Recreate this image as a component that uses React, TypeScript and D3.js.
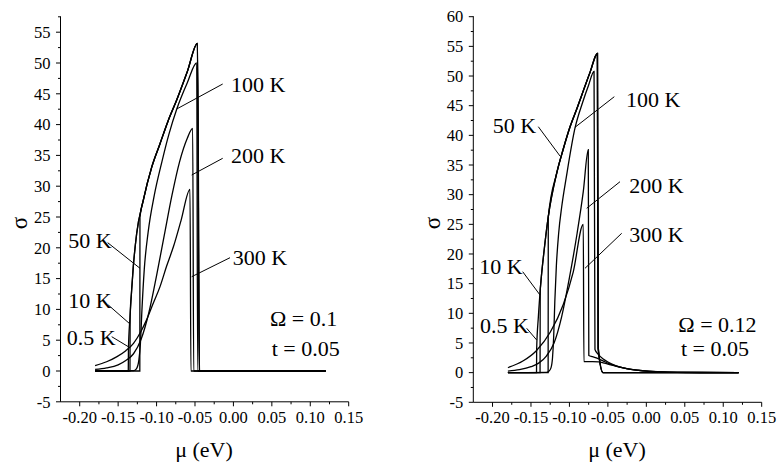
import React from "react";
import * as d3 from "d3";

type Pt = [number, number];

// ---------- DATA ----------
const X_TICKS = [-0.2, -0.15, -0.1, -0.05, 0.0, 0.05, 0.1, 0.15];
const Y_TICKS_LEFT = [-5, 0, 5, 10, 15, 20, 25, 30, 35, 40, 45, 50, 55];
const Y_TICKS_RIGHT = [-5, 0, 5, 10, 15, 20, 25, 30, 35, 40, 45, 50, 55, 60];

// Left panel (Omega = 0.1)
const L_05K: Pt[] = [
  [-0.18, 0], [-0.1368, 0], [-0.1366, 3.5], [-0.1346, 8.7], [-0.1325, 13], [-0.1303, 16.9],
  [-0.1259, 22.3], [-0.1173, 27.7], [-0.1063, 33.1], [-0.0955, 36.9], [-0.085, 40.6],
  [-0.0738, 44], [-0.06, 48.6], [-0.047, 53.2], [-0.0445, 0], [0.12, 0],
];
const L_10K: Pt[] = [
  [-0.18, 0], [-0.1346, 0], [-0.1344, 8.9], [-0.1325, 13], [-0.1303, 16.9],
  [-0.1259, 22.3], [-0.1173, 27.7], [-0.1063, 33.1], [-0.0955, 36.9], [-0.085, 40.6],
  [-0.0738, 44], [-0.06, 48.6], [-0.0468, 53.2], [-0.0443, 0], [0.12, 0],
];
const L_50K: Pt[] = [
  [-0.18, 0], [-0.1218, 0], [-0.1216, 25], [-0.1173, 27.7], [-0.1063, 33.1], [-0.0955, 36.9],
  [-0.085, 40.6], [-0.0738, 44], [-0.06, 48.6], [-0.0466, 53.2], [-0.0441, 0], [0.12, 0],
];
const L_100K: Pt[] = [
  [-0.18, 0], [-0.13, 0.05], [-0.126, 0.4], [-0.123, 1.8], [-0.121, 4.5], [-0.119, 10],
  [-0.116, 16.5], [-0.111, 22.5], [-0.103, 28.5], [-0.093, 34], [-0.0838, 38.5],
  [-0.0738, 42.5], [-0.06, 46.8], [-0.0478, 50], [-0.0465, 0], [0.12, 0],
];
const L_200K: Pt[] = [
  [-0.18, 0.25], [-0.165, 0.5], [-0.15, 1.0], [-0.14, 1.7], [-0.13, 2.8], [-0.12, 5.2],
  [-0.11, 9.5], [-0.1, 15.5], [-0.09, 22], [-0.08, 28.5], [-0.07, 34], [-0.06, 37.8],
  [-0.053, 39.4], [-0.0517, 0], [0.12, 0],
];
const L_300K: Pt[] = [
  [-0.18, 0.86], [-0.165, 1.5], [-0.152, 2.3], [-0.14, 3.3], [-0.13, 4.5], [-0.12, 6.5],
  [-0.113, 8.3], [-0.105, 10.8], [-0.0955, 13.7], [-0.087, 17], [-0.078, 20.2],
  [-0.068, 24.5], [-0.0565, 29.5], [-0.0553, 0], [0.12, 0],
];

// Right panel (Omega = 0.12)
const R_05K: Pt[] = [
  [-0.18, 0], [-0.1428, 0], [-0.1426, 4], [-0.1404, 9.4], [-0.1373, 15], [-0.133, 20.5],
  [-0.1275, 26.3], [-0.1166, 33.6], [-0.108, 37.7], [-0.0993, 41.4], [-0.09, 44.6],
  [-0.082, 47.5], [-0.073, 50.7], [-0.0638, 53.8], [-0.0628, 4.1], [-0.0565, 0], [0.12, 0],
];
const R_10K: Pt[] = [
  [-0.18, 0], [-0.1382, 0], [-0.138, 13.8], [-0.1373, 15], [-0.133, 20.5],
  [-0.1275, 26.3], [-0.1166, 33.6], [-0.108, 37.7], [-0.0993, 41.4], [-0.09, 44.6],
  [-0.082, 47.5], [-0.073, 50.7], [-0.0636, 53.8], [-0.0626, 4.1], [-0.0563, 0], [0.12, 0],
];
const R_50K: Pt[] = [
  [-0.18, 0], [-0.1277, 0], [-0.1275, 26.2], [-0.1166, 33.6], [-0.108, 37.7],
  [-0.0993, 41.4], [-0.09, 44.6], [-0.082, 47.5], [-0.073, 50.7], [-0.0634, 53.8],
  [-0.0624, 4.1], [-0.0561, 0], [0.12, 0],
];
const R_100K: Pt[] = [
  [-0.18, 0], [-0.13, 0.05], [-0.127, 0.2], [-0.124, 0.8], [-0.122, 2.5], [-0.1205, 6],
  [-0.119, 12], [-0.117, 18], [-0.114, 23.5], [-0.11, 28], [-0.104, 33], [-0.0928, 41.2],
  [-0.083, 45.5], [-0.075, 48.5], [-0.068, 50.8], [-0.0668, 3.9], [-0.062, 3.0],
  [-0.056, 2.3], [-0.05, 1.8], [-0.04, 1.2], [-0.03, 0.8], [-0.02, 0.55], [-0.01, 0.38],
  [0.0, 0.25], [0.02, 0.12], [0.04, 0.05], [0.07, 0.02], [0.12, 0],
];
const R_200K: Pt[] = [
  [-0.18, 0.25], [-0.165, 0.5], [-0.15, 1.0], [-0.14, 1.6], [-0.13, 2.8], [-0.12, 5.0],
  [-0.11, 9.5], [-0.1, 16], [-0.09, 23.5], [-0.082, 30.5], [-0.0755, 37.6], [-0.0748, 2.9],
  [-0.07, 2.7], [-0.065, 2.5], [-0.06, 2.2], [-0.055, 1.9], [-0.05, 1.6], [-0.04, 1.15],
  [-0.03, 0.8], [-0.02, 0.55], [-0.01, 0.38], [0.0, 0.26], [0.02, 0.13], [0.04, 0.06],
  [0.07, 0.02], [0.12, 0],
];
const R_300K: Pt[] = [
  [-0.18, 0.85], [-0.16, 2.0], [-0.143, 3.7], [-0.125, 6.8], [-0.108, 11.5], [-0.095, 17],
  [-0.082, 25], [-0.0812, 1.85], [-0.07, 1.85], [-0.062, 1.8], [-0.055, 1.6], [-0.05, 1.45],
  [-0.04, 1.1], [-0.03, 0.8], [-0.02, 0.55], [-0.01, 0.4], [0.0, 0.28], [0.02, 0.14],
  [0.04, 0.07], [0.07, 0.02], [0.12, 0],
];

// ---------- LAYOUT ----------
const FONT = '"Liberation Serif"';

type Ann = { text: string; x: number; y: number; line?: [number, number, number, number] };

interface PanelSpec {
  xRange: [number, number];
  yDomain: [number, number];
  yRange: [number, number];
  yTicks: number[];
  series: Pt[][];
  anns: Ann[];
  sigmaX: number;
  muX: number;
}

const panels: PanelSpec[] = [
  {
    xRange: [60.5, 348.7],
    yDomain: [-5, 57.5],
    yRange: [401.8, 16.8],
    yTicks: Y_TICKS_LEFT,
    series: [L_05K, L_10K, L_50K, L_100K, L_200K, L_300K],
    anns: [
      { text: "100 K", x: 231, y: 92, line: [222.7, 84, 176.7, 109] },
      { text: "200 K", x: 231, y: 163, line: [222.7, 158.3, 191.7, 175] },
      { text: "300 K", x: 232.7, y: 265, line: [230, 257.7, 191.7, 276.7] },
      { text: "50 K", x: 68.3, y: 248, line: [107.7, 242.7, 140, 268.3] },
      { text: "10 K", x: 68.3, y: 308, line: [108.3, 305, 130, 324] },
      { text: "0.5 K", x: 66.7, y: 345, line: [111.7, 336.7, 128.3, 346.7] },
      { text: "Ω = 0.1", x: 270, y: 326 },
      { text: "t = 0.05", x: 271.7, y: 356 },
    ],
    sigmaX: 20,
    muX: 204,
  },
  {
    xRange: [473.3, 761.7],
    yDomain: [-5, 60],
    yRange: [402.3, 16.7],
    yTicks: Y_TICKS_RIGHT,
    series: [R_05K, R_10K, R_50K, R_100K, R_200K, R_300K],
    anns: [
      { text: "100 K", x: 626, y: 106.7, line: [614.3, 96.7, 575, 127.3] },
      { text: "50 K", x: 492.7, y: 132.7, line: [538.3, 126.7, 560, 156] },
      { text: "200 K", x: 629.3, y: 193.3, line: [620, 181.7, 586.7, 208.3] },
      { text: "300 K", x: 629.3, y: 241.7, line: [621.7, 233.3, 585, 268.3] },
      { text: "10 K", x: 479.3, y: 274, line: [522.7, 271.7, 540, 295] },
      { text: "0.5 K", x: 480, y: 332.7, line: [526.7, 328.3, 536.7, 340] },
      { text: "Ω = 0.12", x: 678.3, y: 331.7 },
      { text: "t = 0.05", x: 681, y: 356 },
    ],
    sigmaX: 433,
    muX: 617,
  },
];

function Panel({ p }: { p: PanelSpec }) {
  const x = d3.scaleLinear().domain([-0.225, 0.15]).range(p.xRange);
  const y = d3.scaleLinear().domain(p.yDomain).range(p.yRange);
  const line = d3
    .line<Pt>()
    .x((d) => x(d[0]))
    .y((d) => y(d[1]))
    .curve(d3.curveMonotoneX);
  const x0 = p.xRange[0];
  const yb = p.yRange[0];
  const xMinor = d3.range(-0.175, 0.15, 0.05);
  const yMinor = d3.range(p.yDomain[0] + 2.5, p.yDomain[1] + 0.01, 5);
  const tStyle = { fontFamily: FONT };
  return (
    <g>
      {p.series.map((s, i) => (
        <path key={i} d={line(s) || ""} fill="none" stroke="#000" strokeWidth={1.3} strokeLinejoin="miter" />
      ))}
      <line x1={x0} x2={x0} y1={p.yRange[1] - 0.5} y2={yb} stroke="#000" strokeWidth={1} />
      <line x1={x0} x2={p.xRange[1]} y1={yb} y2={yb} stroke="#000" strokeWidth={1} />
      {p.yTicks.map((t) => (
        <g key={"y" + t}>
          <line x1={x0 - 4.5} x2={x0} y1={y(t)} y2={y(t)} stroke="#000" strokeWidth={1} />
          <text x={x0 - 10} y={y(t)} dy="0.35em" textAnchor="end" style={tStyle} fontSize={16.5}>
            {t}
          </text>
        </g>
      ))}
      {yMinor.map((t) => (
        <line key={"ym" + t} x1={x0 - 2.5} x2={x0} y1={y(t)} y2={y(t)} stroke="#000" strokeWidth={1} />
      ))}
      {X_TICKS.map((t) => (
        <g key={"x" + t}>
          <line x1={x(t)} x2={x(t)} y1={yb} y2={yb + 4.5} stroke="#000" strokeWidth={1} />
          <text x={x(t)} y={423} textAnchor="middle" style={tStyle} fontSize={16.5}>
            {t.toFixed(2)}
          </text>
        </g>
      ))}
      {xMinor.map((t) => (
        <line key={"xm" + t} x1={x(t)} x2={x(t)} y1={yb} y2={yb + 2.5} stroke="#000" strokeWidth={1} />
      ))}
      {p.anns.map((a, i) => (
        <g key={"a" + i}>
          {a.line && (
            <line x1={a.line[0]} y1={a.line[1]} x2={a.line[2]} y2={a.line[3]} stroke="#000" strokeWidth={1} />
          )}
          <text x={a.x} y={a.y} style={tStyle} fontSize={22}>
            {a.text}
          </text>
        </g>
      ))}
      <text
        transform={`translate(${p.sigmaX + 7},223) rotate(-90)`}
        textAnchor="middle"
        style={tStyle}
        fontSize={23}
      >
        σ
      </text>
      <text x={p.muX} y={457} textAnchor="middle" style={tStyle} fontSize={22}>
        μ (eV)
      </text>
    </g>
  );
}

export default function App() {
  return (
    <svg
      width={778}
      height={464}
      viewBox="0 0 778 464"
      style={{ position: "absolute", left: 0, top: 0, background: "#fff" }}
    >
      <rect width={778} height={464} fill="#fff" />
      {panels.map((p, i) => (
        <Panel key={i} p={p} />
      ))}
    </svg>
  );
}
